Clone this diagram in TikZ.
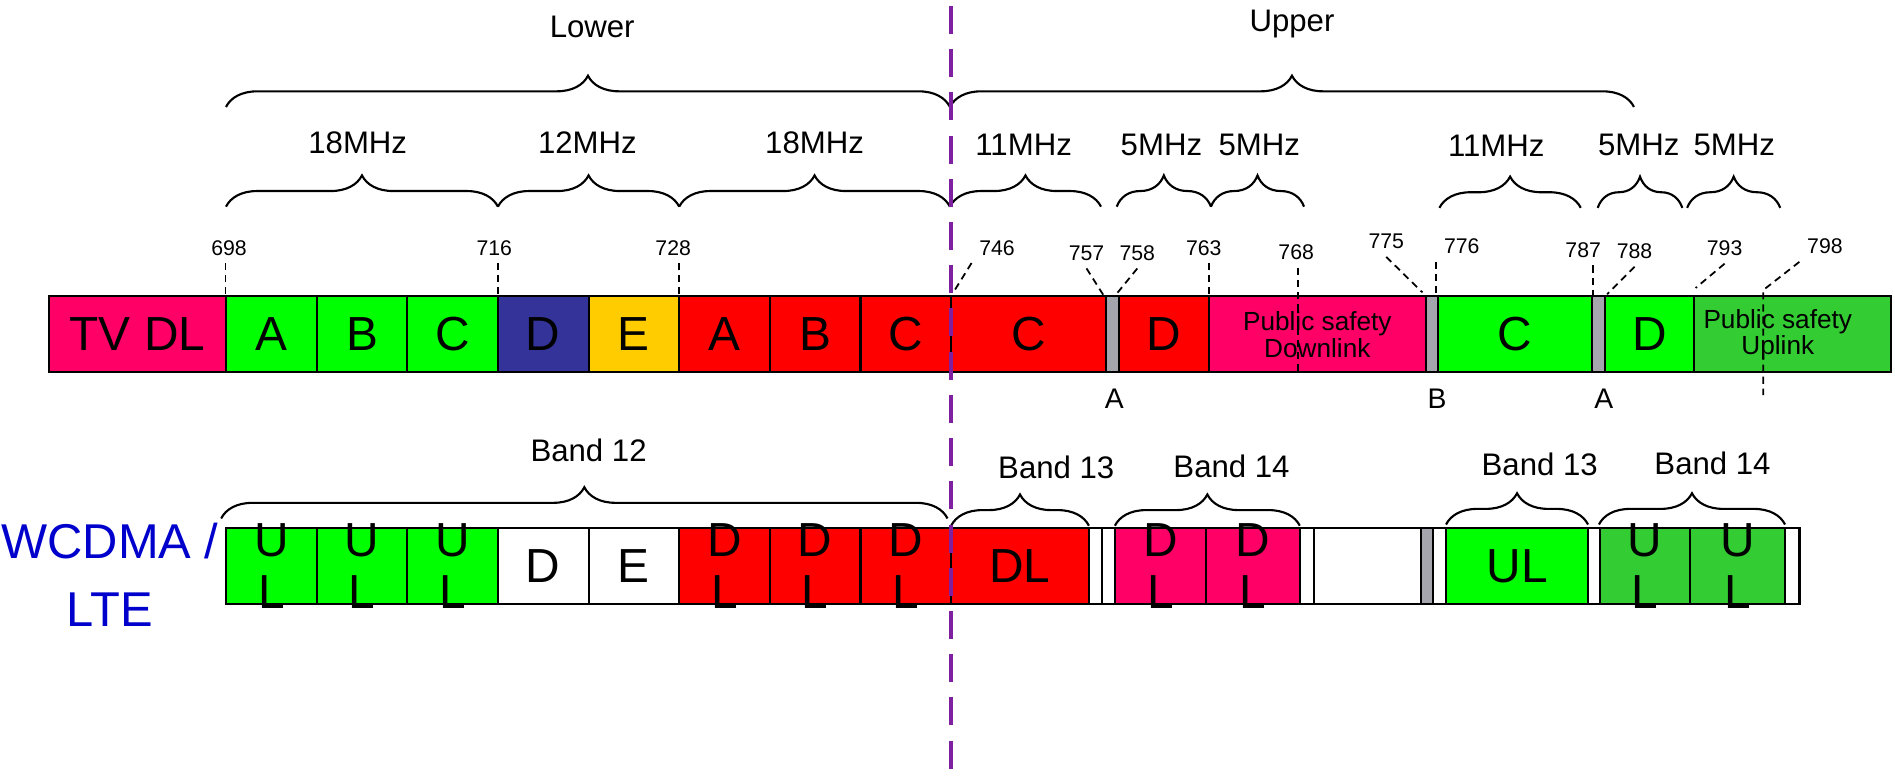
\documentclass[tikz,border=0pt]{standalone}
\usepackage{fontspec}
\setmainfont{Liberation Sans}
\usetikzlibrary{calc,decorations.pathreplacing}
\definecolor{tvpink}{HTML}{FF0066}
\definecolor{chgreen}{HTML}{00FF00}
\definecolor{chnavy}{HTML}{333399}
\definecolor{chyellow}{HTML}{FFCC00}
\definecolor{chred}{HTML}{FF0000}
\definecolor{guardgray}{HTML}{A5A5AD}
\definecolor{psgreen}{HTML}{33CC33}
\definecolor{wcblue}{HTML}{0000CC}
\definecolor{splitpurple}{HTML}{7F20A0}
\tikzset{
  cell/.style={draw=black, line width=0.6pt},
  celltext/.style={align=center, inner sep=0pt, font=\fontsize{13.5}{14.7}\selectfont},
  pstext/.style={align=center, inner sep=0pt, font=\fontsize{7.4}{7.5}\selectfont},
  freq/.style={inner sep=2pt, font=\fontsize{6}{7}\selectfont},
  freqtick/.style={line width=0.5pt, dash pattern=on 2pt off 1.4pt},
  mhzlabel/.style={font=\fontsize{8.8}{10}\selectfont},
  gaplabel/.style={font=\fontsize{8}{9}\selectfont},
  brc/.style={decorate, decoration={brace, amplitude=0.31cm}, line width=0.6pt},
  split/.style={draw=splitpurple, line width=1.2pt, dash pattern=on 7.9pt off 4.3pt},
}
% fill, x1:x2:top, name, text
\def\bandcell[#1](#2:#3:#4)#5#6{\draw[cell, fill=#1] (#2,#4) rectangle (#3,#4+63);
  \node[celltext] (#5) at ({(#2+#3)/2},#4+31.5) {#6};}

\begin{document}
\begin{tikzpicture}[x=0.012cm, y=-0.012cm]
		\useasboundingbox (0,0) rectangle (1568,644);
		%%%%% START %%%%%
		
		\node[mhzlabel] (lower) at (490,22) {Lower};
		\node[mhzlabel] (upper) at (1069,20) {Upper};
		\draw[brc] (187,88.5) -- (786,88.5);
		\draw[brc] (786,88.5) -- (1352,88.5);
		
		\node[mhzlabel] (w1) at (296,118) {18MHz};
		\node[mhzlabel] (w2) at (486,118) {12MHz};
		\node[mhzlabel] (w3) at (674,118) {18MHz};
		\node[mhzlabel] (w4) at (847,120) {11MHz};
		\node[mhzlabel] (w5) at (961,120) {5MHz};
		\node[mhzlabel] (w6) at (1042,120) {5MHz};
		\node[mhzlabel] (w7) at (1238,121) {11MHz};
		\node[mhzlabel] (w8) at (1356,120) {5MHz};
		\node[mhzlabel] (w9) at (1435,120) {5MHz};
		\draw[brc] (187,171) -- (412,171);
		\draw[brc] (412,171) -- (562,171);
		\draw[brc] (562,171) -- (786,171);
		\draw[brc] (786,171) -- (911,171);
		\draw[brc] (924,171) -- (1002,171);
		\draw[brc] (1002,171) -- (1079,171);
		\draw[brc] (1191,172) -- (1308,172);
		\draw[brc] (1322,172) -- (1392,172);
		\draw[brc] (1396,172) -- (1473,172);
		
		% upper row
		\bandcell[tvpink](40.5:187:245){tvdl}{TV DL}
		\bandcell[chgreen](187:262:245){lA}{A}
		\bandcell[chgreen](262:337:245){lB}{B}
		\bandcell[chgreen](337:412:245){lC}{C}
		\bandcell[chnavy](412:487:245){lD}{D}
		\bandcell[chyellow](487:562:245){lE}{E}
		\bandcell[chred](562:637:245){rA}{A}
		\bandcell[chred](637:712:245){rB}{B}
		\bandcell[chred](712:787:245){rC}{C}
		\bandcell[chred](787:915:245){uC}{C}
		\bandcell[guardgray](915:926:245){gA1}{}
		\bandcell[chred](926:1000:245){uD}{D}
		\bandcell[tvpink](1000:1180:245){psdl}{}
		\bandcell[guardgray](1180:1190:245){gB}{}
		\bandcell[chgreen](1190:1317:245){ulC}{C}
		\bandcell[guardgray](1317:1328:245){gA2}{}
		\bandcell[chgreen](1328:1402:245){ulD}{D}
		\bandcell[psgreen](1402:1565:245){psul}{}
		\node[pstext] (psdltext) at (1090,277) {Public safety\\Downlink};
		\node[pstext] (psultext) at (1471,277) {Public safety\\Uplink};
		
		\node[gaplabel] (labA1) at (922,330) {A};
		\node[gaplabel] (labB) at (1189,330) {B};
		\node[gaplabel] (labA2) at (1327,330) {A};
		
		% frequencies
		\node[freq] (n698) at (189.5,205) {698};
		\node[freq] (n716) at (409,205) {716};
		\node[freq] (n728) at (557,205) {728};
		\node[freq] (n746) at (825,205) {746};
		\node[freq] (n757) at (899,209.5) {757};
		\node[freq] (n758) at (941,209.5) {758};
		\node[freq] (n763) at (996,205) {763};
		\node[freq] (n768) at (1072.5,209) {768};
		\node[freq] (n775) at (1147,200) {775};
		\node[freq] (n776) at (1209.5,204) {776};
		\node[freq] (n787) at (1310,207) {787};
		\node[freq] (n788) at (1352.5,208) {788};
		\node[freq] (n793) at (1427,205.5) {793};
		\node[freq] (n798) at (1510,204) {798};
		
		\coordinate (c698) at (186.5,244);
		\coordinate (c716) at (412,244);
		\coordinate (c728) at (562,244);
		\coordinate (c746) at (790,240);
		\coordinate (c757) at (913.5,245);
		\coordinate (c758) at (922,245.5);
		\coordinate (c763) at (1000.3,244);
		\coordinate (c768) at (1074,311);
		\coordinate (c775) at (1177,242);
		\coordinate (c776) at (1188,243.5);
		\coordinate (c787) at (1318,245);
		\coordinate (c788) at (1329.7,243.5);
		\coordinate (c793) at (1403,238.3);
		\coordinate (c798) at (1459,240);
		\coordinate (c798b) at (1459,327);
		
		\draw[freqtick] (c698 |- n698.south) -- (c698);
		\draw[freqtick] (c716 |- n716.south) -- (c716);
		\draw[freqtick] (c728 |- n728.south) -- (c728);
		\draw[freqtick] (n746.south west) -- (c746);
		\draw[freqtick] (n757.south) -- (c757);
		\draw[freqtick] (n758.south) -- (c758);
		\draw[freqtick] (c763 |- n763.south) -- (c763);
		\draw[freqtick] (c768 |- n768.south) -- (c768);
		\draw[freqtick] (n775.south) -- (c775);
		\draw[freqtick] (c776 |- n776.south) -- (c776);
		\draw[freqtick] (c787 |- n787.south) -- (c787);
		\draw[freqtick] (n788.south) -- (c788);
		\draw[freqtick] (n793.south) -- (c793);
		\draw[freqtick] (n798.south west) -- (c798) -- (c798b);
		
		% lower row
		\node[mhzlabel] (b12) at (487,373) {Band 12};
		\node[mhzlabel] (b13l) at (874,387) {Band 13};
		\node[mhzlabel] (b14l) at (1019,386) {Band 14};
		\node[mhzlabel] (b13r) at (1274,384.5) {Band 13};
		\node[mhzlabel] (b14r) at (1417,383) {Band 14};
		\draw[brc] (183,429) -- (784,429);
		\draw[brc] (787,435) -- (901,435);
		\draw[brc] (922.5,435) -- (1075.5,435);
		\draw[brc] (1196.5,434) -- (1314,434);
		\draw[brc] (1323,434) -- (1477,434);
		
		\node[text=wcblue, align=center, inner sep=0pt, font=\fontsize{13.8}{19.3}\selectfont] (tech) at (91,475.5) {WCDMA /\\LTE};
		
		\bandcell[chgreen](187:262:437){bU1}{U\\L}
		\bandcell[chgreen](262:337:437){bU2}{U\\L}
		\bandcell[chgreen](337:412:437){bU3}{U\\L}
		\bandcell[white](412:487:437){bD}{D}
		\bandcell[white](487:562:437){bE}{E}
		\bandcell[chred](562:637:437){bD1}{D\\L}
		\bandcell[chred](637:712:437){bD2}{D\\L}
		\bandcell[chred](712:787:437){bD3}{D\\L}
		\bandcell[chred](787:901:437){bDL}{DL}
		\bandcell[white](901:912:437){bw1}{}
		\bandcell[white](912:922.5:437){bw2}{}
		\bandcell[tvpink](922.5:998:437){bD4}{D\\L}
		\bandcell[tvpink](998:1075.5:437){bD5}{D\\L}
		\bandcell[white](1075.5:1087:437){bw3}{}
		\bandcell[white](1087:1176:437){bw4}{}
		\bandcell[guardgray](1176:1186:437){bg}{}
		\bandcell[white](1186:1196.5:437){bw5}{}
		\bandcell[chgreen](1196.5:1314:437){bUL}{UL}
		\bandcell[white](1314:1324:437){bw6}{}
		\bandcell[psgreen](1324:1398:437){bU4}{U\\L}
		\bandcell[psgreen](1398:1477:437){bU5}{U\\L}
		\bandcell[white](1477:1489:437){bw7}{}
		
		\coordinate (splittop) at (787,5);
		\coordinate (splitbot) at (787,644);
		\draw[split] (splittop) -- (splitbot);
		
		%%%%% END %%%%%
	\end{tikzpicture}
\end{document}
